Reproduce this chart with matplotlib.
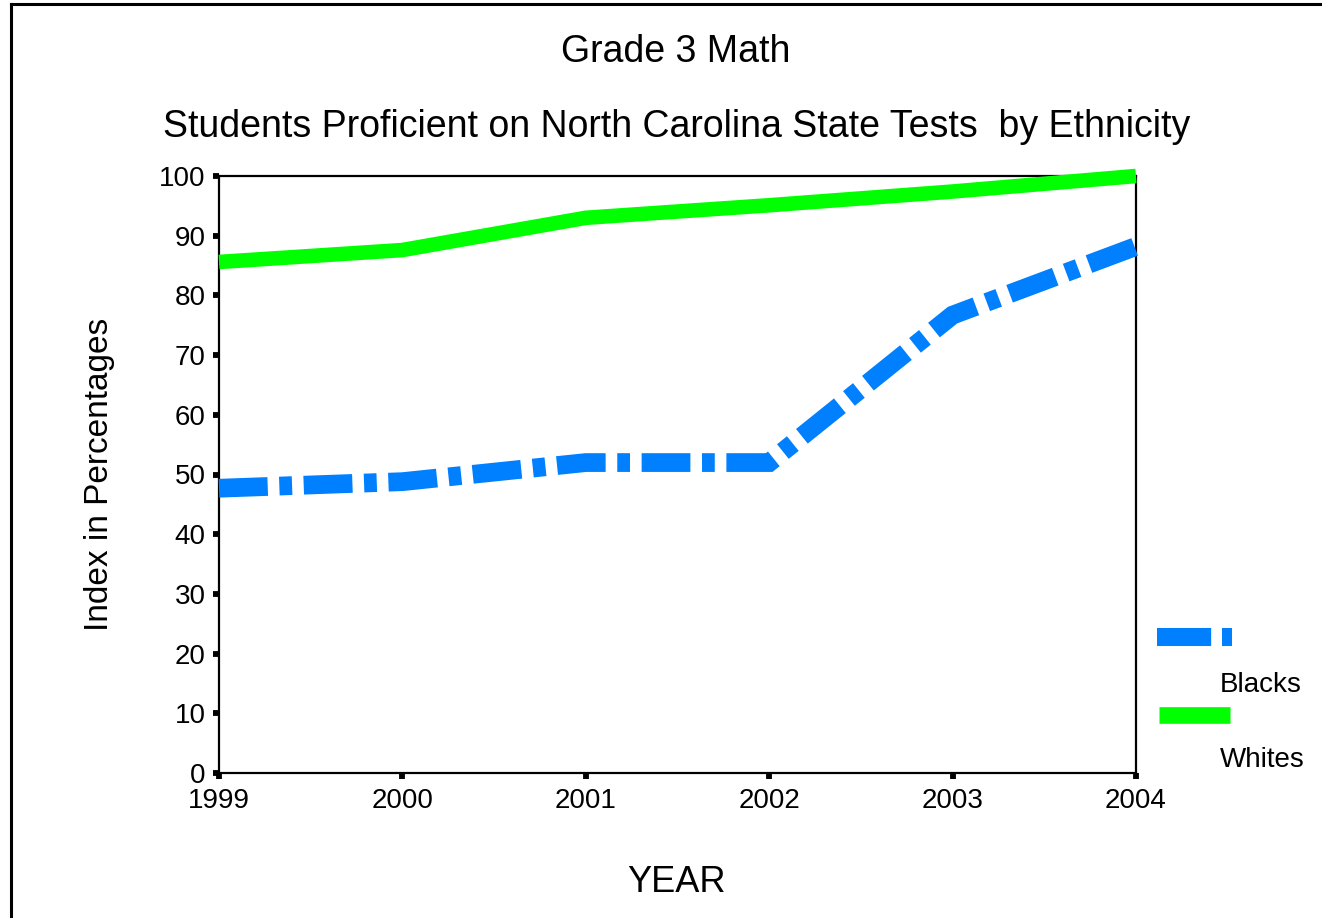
import matplotlib.pyplot as plt
from matplotlib.lines import Line2D

plt.rcParams['font.family'] = ['Liberation Sans', 'DejaVu Sans']

# Data
years = [1999, 2000, 2001, 2002, 2003, 2004]
blacks = [47.7, 48.8, 52.0, 52.0, 76.7, 88.2]
whites = [85.6, 87.6, 93.0, 95.1, 97.4, 100.0]
year_labels = ['1999', '2000', '2001', '2002', '2003', '2004']
y_ticks = [0, 10, 20, 30, 40, 50, 60, 70, 80, 90, 100]

W, H = 1322, 918
blue = '#0080ff'
green = '#00ff00'

fig = plt.figure(figsize=(W / 100, H / 100), dpi=100)
ax = fig.add_axes([219 / W, 1 - 773 / H, (1136 - 219) / W, (773 - 176) / H])

ax.plot(years, whites, color=green, lw=10.5, solid_capstyle='butt',
        solid_joinstyle='miter', clip_on=False, zorder=3)
bl, = ax.plot(years, blacks, color=blue, lw=13.5, dash_capstyle='butt',
              dash_joinstyle='miter', clip_on=False, zorder=3)
bl.set_dashes((2.6, 0.62, 0.68, 0.62))

ax.set_xlim(1999, 2004)
ax.set_ylim(0, 100)
ax.set_xticks(years)
ax.set_xticklabels(year_labels)
ax.set_yticks(y_ticks)
for s in ax.spines.values():
    s.set_linewidth(1.6)
ax.tick_params(axis='both', direction='out', length=4.5, width=4.2,
               labelsize=20)
ax.tick_params(axis='y', pad=5)
ax.tick_params(axis='x', pad=6)

fig.text(676 / W, 1 - 52 / H, 'Grade 3 Math', ha='center', va='center',
         fontsize=27)
fig.text(677 / W, 1 - 127 / H,
         'Students Proficient on North Carolina State Tests  by Ethnicity',
         ha='center', va='center', fontsize=27)
fig.text(100 / W, 1 - 474 / H, 'Index in Percentages', rotation=90,
         ha='center', va='center', fontsize=24)
fig.text(676 / W, 1 - 882 / H, 'YEAR', ha='center', va='center', fontsize=26)

# Legend drawn by hand (labels sit below their line samples)
lb = Line2D([1157 / W, 1232 / W], [1 - 637 / H, 1 - 637 / H], color=blue,
            lw=13, dash_capstyle='butt', transform=fig.transFigure)
lb.set_dashes((3.0, 0.6, 0.6, 0.6))
fig.add_artist(lb)
fig.add_artist(Line2D([1159 / W, 1230 / W], [1 - 715 / H, 1 - 715 / H],
                      color=green, lw=12, solid_capstyle='butt',
                      transform=fig.transFigure))
fig.text(1220 / W, 1 - 685 / H, 'Blacks', ha='left', va='center', fontsize=20)
fig.text(1220 / W, 1 - 760 / H, 'Whites', ha='left', va='center', fontsize=20)

# Partial outer frame
fig.add_artist(Line2D([11 / W, 1.0], [1 - 4 / H, 1 - 4 / H], color='black',
                      lw=2.2, transform=fig.transFigure))
fig.add_artist(Line2D([11 / W, 11 / W], [0, 1 - 4 / H], color='black',
                      lw=2.2, transform=fig.transFigure))

fig.savefig('out.png', dpi=100)
